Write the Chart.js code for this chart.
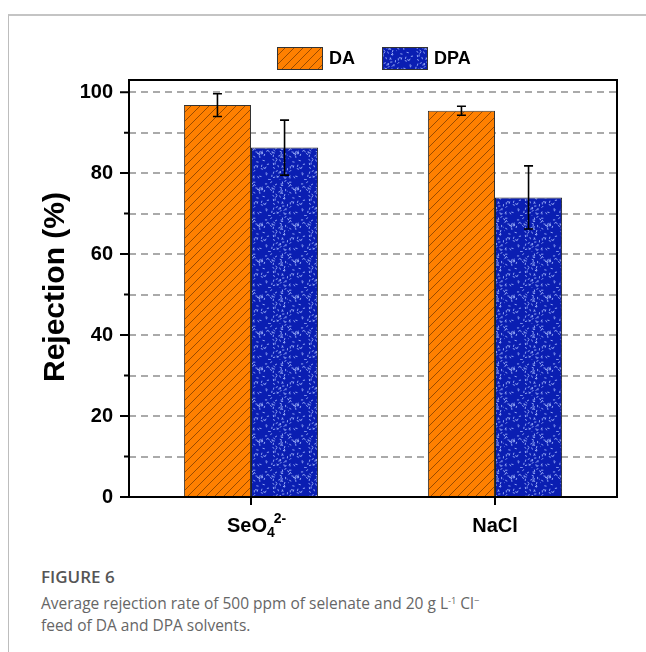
<!DOCTYPE html>
<html>
  <head>
    <meta http-equiv="content-type" content="text/html; charset=utf-8" />
    <title>Figure 6</title>
    <style>
      body { margin: 0; background: #fff; width: 646px; height: 652px; position: relative; overflow: hidden; }
      #frame { position: absolute; left: 8px; top: 14px; width: 700px; height: 700px;
               border-top: 2px solid #c4c4c4; border-left: 1px solid #bdbdbd; }
      #chart { position: absolute; left: 0; top: 0; }
      .cap { position: absolute; left: 41px; font-family: "Open Sans", sans-serif; color: #666; line-height: 22px; white-space: nowrap; }
      .cap sup { font-size: 0.6em; vertical-align: 0; position: relative; top: -0.55em; }
    </style>
  </head>

  <body>
    <div id="frame"></div>
    <canvas id="chart" width="646" height="560"></canvas>
    <div class="cap" style="top: 566px; font-size: 17px; font-weight: 600; color: #555">FIGURE 6</div>
    <div class="cap" style="top: 592px; font-size: 15.5px">Average rejection rate of 500 ppm of selenate and 20 g L<sup>-1</sup> Cl<sup>&minus;</sup></div>
    <div class="cap" style="top: 614px; font-size: 15.5px">feed of DA and DPA solvents.</div>

    <script src="https://cdn.jsdelivr.net/npm/chart.js@4/dist/chart.umd.min.js"></script>
    <script>
      const categories = ["SeO4^2-", "NaCl"];
      const seriesNames = ["DA", "DPA"];
      const daValues = [96.8, 95.4];
      const daErrors = [2.8, 1.1];
      const dpaValues = [86.3, 74.0];
      const dpaErrors = [6.8, 7.8];
      const yTicks = [0, 20, 40, 60, 80, 100];

      const FONT = '"Liberation Sans", Arial, sans-serif';

      // orange with thin "/" hatching
      function hatchPattern() {
        const c = document.createElement("canvas");
        c.width = 9; c.height = 9;
        const g = c.getContext("2d");
        g.fillStyle = "#ff8000";
        g.fillRect(0, 0, 9, 9);
        g.strokeStyle = "#8f4500";
        g.lineWidth = 0.9;
        g.beginPath();
        g.moveTo(0, 9); g.lineTo(9, 0);
        g.moveTo(-1, 1); g.lineTo(1, -1);
        g.moveTo(8, 10); g.lineTo(10, 8);
        g.stroke();
        return g.createPattern(c, "repeat");
      }

      // blue with light speckles (fixed sequence so it looks the same every run)
      function speckPattern() {
        const c = document.createElement("canvas");
        c.width = 36; c.height = 36;
        const g = c.getContext("2d");
        g.fillStyle = "#0a1eb2";
        g.fillRect(0, 0, 36, 36);
        let s = 7;
        const next = () => { s = (s * 1103515245 + 12345) % 2147483648; return s / 2147483648; };
        g.strokeStyle = "rgba(150,170,245,0.95)";
        g.lineWidth = 1;
        for (let i = 0; i < 90; i++) {
          const x = next() * 36, y = next() * 36, a = next() * Math.PI;
          g.beginPath();
          g.moveTo(x, y);
          g.lineTo(x + Math.cos(a) * 2.2, y + Math.sin(a) * 2.2);
          g.stroke();
        }
        return g.createPattern(c, "repeat");
      }

      const ctx0 = document.getElementById("chart").getContext("2d");
      const daFill = hatchPattern();
      const dpaFill = speckPattern();
      const errors = [daErrors, dpaErrors];

      const decor = {
        id: "decor",
        beforeDatasetsDraw(chart) {
          const { ctx, chartArea: a, scales: { y } } = chart;
          ctx.save();
          ctx.strokeStyle = "#8e8e8e";
          ctx.lineWidth = 1.5;
          ctx.setLineDash([7, 5]);
          for (let v = 10; v <= 100; v += 10) {
            const py = Math.round(y.getPixelForValue(v));
            ctx.beginPath();
            ctx.moveTo(a.left, py);
            ctx.lineTo(a.right, py);
            ctx.stroke();
          }
          ctx.restore();
        },
        afterDatasetsDraw(chart) {
          const { ctx, chartArea: a, scales: { x, y } } = chart;
          ctx.save();
          // error bars
          ctx.strokeStyle = "#000";
          ctx.lineWidth = 1.6;
          chart.data.datasets.forEach((ds, di) => {
            chart.getDatasetMeta(di).data.forEach((bar, i) => {
              const v = ds.data[i], e = errors[di][i];
              const t = y.getPixelForValue(v + e), b = y.getPixelForValue(v - e);
              ctx.beginPath();
              ctx.moveTo(bar.x, t); ctx.lineTo(bar.x, b);
              ctx.moveTo(bar.x - 4.5, t); ctx.lineTo(bar.x + 4.5, t);
              ctx.moveTo(bar.x - 4.5, b); ctx.lineTo(bar.x + 4.5, b);
              ctx.stroke();
            });
          });
          // plot frame
          ctx.lineWidth = 2;
          ctx.strokeRect(a.left, a.top, a.right - a.left, a.bottom - a.top);
          // tick marks
          ctx.beginPath();
          for (let v = 0; v <= 100; v += 10) {
            const py = y.getPixelForValue(v);
            ctx.moveTo(a.left, py);
            ctx.lineTo(a.left - (v % 20 === 0 ? 9 : 5), py);
          }
          categories.forEach((c, i) => {
            const px = x.getPixelForValue(i);
            ctx.moveTo(px, a.bottom);
            ctx.lineTo(px, a.bottom + 8);
          });
          ctx.stroke();

          // category labels with sub/superscripts
          ctx.fillStyle = "#000";
          ctx.textBaseline = "alphabetic";
          const base = a.bottom + 35;
          const p0 = x.getPixelForValue(0);
          ctx.textAlign = "left";
          ctx.font = "bold 20px " + FONT;
          ctx.fillText("SeO", p0 - 24, base);
          let wx = p0 - 24 + ctx.measureText("SeO").width;
          ctx.font = "bold 14px " + FONT;
          ctx.fillText("4", wx, base + 5);
          ctx.fillText("2-", wx + ctx.measureText("4").width - 1, base - 9);
          ctx.font = "bold 20px " + FONT;
          ctx.textAlign = "center";
          ctx.fillText(categories[1], x.getPixelForValue(1), base);

          // y title
          ctx.save();
          ctx.translate(56, 287);
          ctx.rotate(-Math.PI / 2);
          ctx.font = "bold 30px " + FONT;
          ctx.textAlign = "center";
          ctx.textBaseline = "middle";
          ctx.fillText("Rejection (%)", 0, 0);
          ctx.restore();

          // legend
          const fills = [daFill, dpaFill];
          const lx = [277, 382];
          ctx.font = "bold 18px " + FONT;
          ctx.textAlign = "left";
          ctx.textBaseline = "middle";
          ctx.lineWidth = 1;
          ctx.strokeStyle = "#333";
          seriesNames.forEach((n, i) => {
            ctx.fillStyle = fills[i];
            ctx.fillRect(lx[i], 47, 45, 22);
            ctx.strokeRect(lx[i] + 0.5, 47.5, 45, 22);
            ctx.fillStyle = "#000";
            ctx.fillText(n, lx[i] + 52, 59);
          });
          ctx.restore();
        }
      };

      new Chart(ctx0, {
        type: "bar",
        data: {
          labels: categories,
          datasets: [
            { label: seriesNames[0], data: daValues, backgroundColor: daFill, borderColor: "#333", borderWidth: 1 },
            { label: seriesNames[1], data: dpaValues, backgroundColor: dpaFill, borderColor: "#222", borderWidth: 1 }
          ]
        },
        options: {
          responsive: false,
          animation: false,
          devicePixelRatio: 1,
          categoryPercentage: 0.55,
          barPercentage: 1.0,
          layout: { padding: { top: 80, right: 29, left: 0, bottom: 0 } },
          plugins: { legend: { display: false }, tooltip: { enabled: false } },
          scales: {
            x: {
              grid: { display: false },
              border: { display: false },
              ticks: { display: false },
              afterFit: (s) => { s.height = 63; }
            },
            y: {
              min: 0,
              max: 103,
              grid: { display: false, drawTicks: false },
              border: { display: false },
              afterBuildTicks: (s) => { s.ticks = yTicks.map((v) => ({ value: v })); },
              ticks: {
                padding: 16,
                color: "#000",
                font: { family: FONT, size: 20, weight: "bold" }
              },
              afterFit: (s) => { s.width = 129; }
            }
          }
        },
        plugins: [decor]
      });
    </script>
  </body>
</html>
